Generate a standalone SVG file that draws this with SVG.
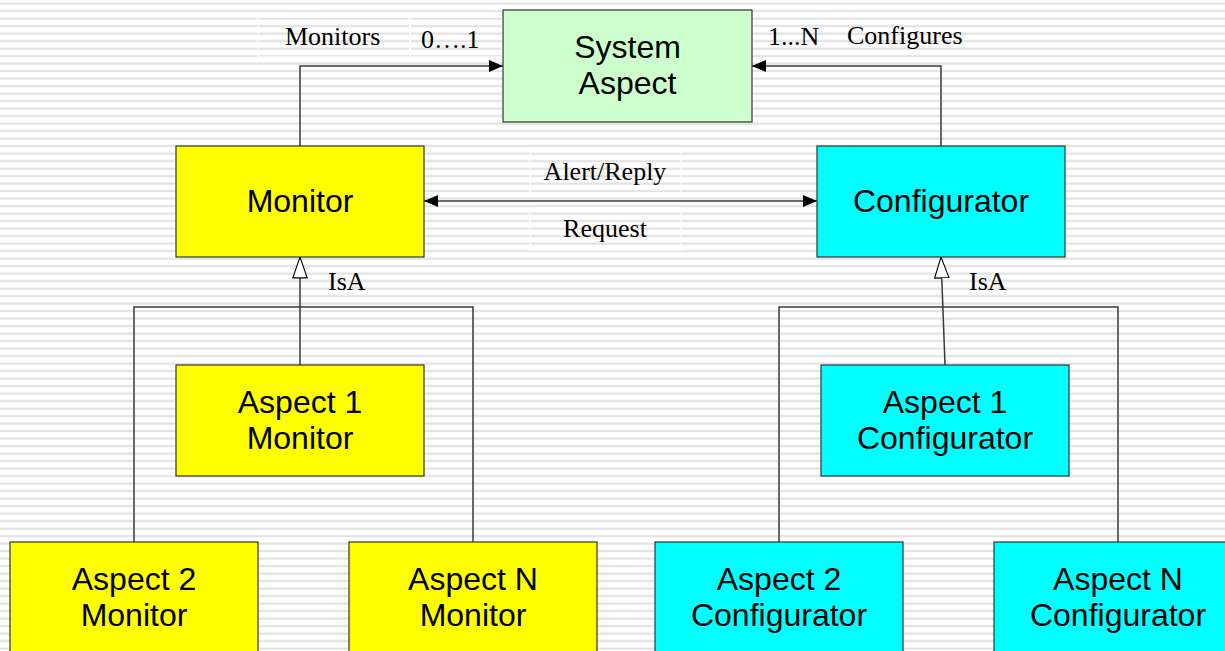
<svg xmlns="http://www.w3.org/2000/svg" width="1225" height="651" viewBox="0 0 1225 651">
<defs>
<pattern id="stripes" x="0" y="0" width="20" height="7.5" patternUnits="userSpaceOnUse">
<rect x="0" y="0" width="20" height="7.5" fill="#ffffff"/>
<rect x="0" y="2.5" width="20" height="2.2" fill="#e2e2e2"/>
</pattern>
<marker id="arrow" viewBox="0 0 14 12" refX="14" refY="6" markerWidth="14" markerHeight="12" markerUnits="userSpaceOnUse" orient="auto-start-reverse">
<path d="M0,0 L14,6 L0,12 Z" fill="#000"/>
</marker>
<marker id="hollow" viewBox="0 0 22 16" refX="21.5" refY="8" markerWidth="22" markerHeight="16" markerUnits="userSpaceOnUse" orient="auto">
<path d="M0.6,0.8 L0.6,15.2 L21.5,8 Z" fill="#fff" stroke="#000" stroke-width="1.1"/>
</marker>
</defs>
<style>
.box{stroke:#333;stroke-width:1.2}
.sys{fill:#ccffcc}
.yel{fill:#ffff00}
.cya{fill:#00ffff}
.nt{font-family:"Liberation Sans",Arial,sans-serif;font-size:32px;fill:#000;text-anchor:middle}
.lb{font-family:"Liberation Serif","Times New Roman",serif;font-size:26px;fill:#000}
.ln{fill:none;stroke:#3a3a3a;stroke-width:1.5}
.gap{fill:none;stroke:#ffffff;stroke-width:1.2}
</style>
<rect x="0" y="0" width="1225" height="651" fill="url(#stripes)"/>
<g id="label-boxes">
<rect class="gap" x="258" y="17" width="152" height="40"/>
<rect class="gap" x="410" y="17" width="92" height="40"/>
<rect class="gap" x="530" y="152" width="151" height="42"/>
<rect class="gap" x="530" y="208" width="151" height="42"/>
</g>
<g id="connectors">
<path class="ln" d="M300,146 V66 H503" marker-end="url(#arrow)"/>
<path class="ln" d="M941,146 V66 H752" marker-end="url(#arrow)"/>
<path class="ln" d="M424,201 H817" marker-start="url(#arrow)" marker-end="url(#arrow)"/>
<path class="ln" d="M300,365 V257" marker-end="url(#hollow)"/>
<path class="ln" d="M945,365 L941,257" marker-end="url(#hollow)"/>
<path class="ln" d="M134,542 V307 H473 V542"/>
<path class="ln" d="M779,542 V307 H1118 V542"/>
</g>
<g id="labels">
<text class="lb" x="285" y="45">Monitors</text>
<text class="lb" x="421" y="48">0….1</text>
<text class="lb" x="768" y="45">1...N</text>
<text class="lb" x="847" y="44">Configures</text>
<text class="lb" x="605" y="180" text-anchor="middle">Alert/Reply</text>
<text class="lb" x="605" y="237" text-anchor="middle">Request</text>
<text class="lb" x="328" y="290">IsA</text>
<text class="lb" x="969" y="290">IsA</text>
</g>
<g id="system-aspect">
<rect class="box sys" x="503" y="10" width="249" height="112"/>
<text class="nt" x="627.5" y="58">System</text>
<text class="nt" x="627.5" y="94">Aspect</text>
</g>
<g id="monitor">
<rect class="box yel" x="176" y="146" width="248" height="111"/>
<text class="nt" x="300" y="212">Monitor</text>
</g>
<g id="configurator">
<rect class="box cya" x="817" y="146" width="248" height="111"/>
<text class="nt" x="941" y="212">Configurator</text>
</g>
<g id="aspect1-monitor">
<rect class="box yel" x="176" y="365" width="248" height="111"/>
<text class="nt" x="300" y="413">Aspect 1</text>
<text class="nt" x="300" y="449">Monitor</text>
</g>
<g id="aspect1-configurator">
<rect class="box cya" x="821" y="365" width="248" height="111"/>
<text class="nt" x="945" y="413">Aspect 1</text>
<text class="nt" x="945" y="449">Configurator</text>
</g>
<g id="aspect2-monitor">
<rect class="box yel" x="10" y="542" width="248" height="120"/>
<text class="nt" x="134" y="590">Aspect 2</text>
<text class="nt" x="134" y="626">Monitor</text>
</g>
<g id="aspectN-monitor">
<rect class="box yel" x="349" y="542" width="248" height="120"/>
<text class="nt" x="473" y="590">Aspect N</text>
<text class="nt" x="473" y="626">Monitor</text>
</g>
<g id="aspect2-configurator">
<rect class="box cya" x="655" y="542" width="248" height="120"/>
<text class="nt" x="779" y="590">Aspect 2</text>
<text class="nt" x="779" y="626">Configurator</text>
</g>
<g id="aspectN-configurator">
<rect class="box cya" x="994" y="542" width="248" height="120"/>
<text class="nt" x="1118" y="590">Aspect N</text>
<text class="nt" x="1118" y="626">Configurator</text>
</g>
</svg>
